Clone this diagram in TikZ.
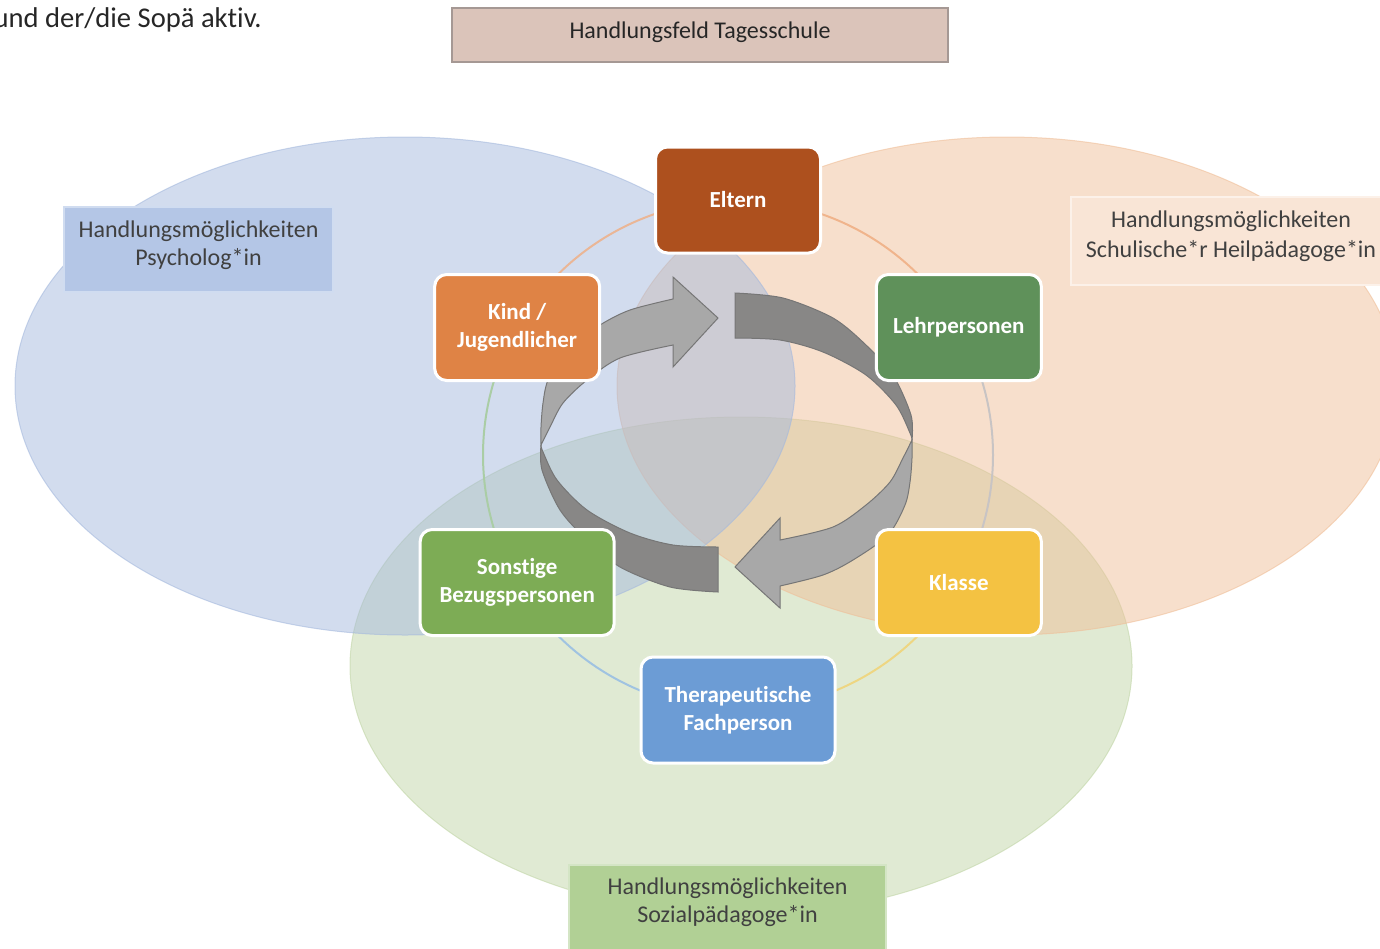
\documentclass[tikz,border=0pt]{standalone}
\usepackage{fontspec}
\setmainfont{Carlito}[Ligatures=NoCommon]
% Farben
\definecolor{ellBlau}{RGB}{165,185,221}
\definecolor{ellOrange}{RGB}{239,191,153}
\definecolor{ellGruen}{RGB}{193,213,167}
\definecolor{colEltern}{RGB}{173,80,30}
\definecolor{colLehr}{RGB}{95,145,90}
\definecolor{colKlasse}{RGB}{244,194,66}
\definecolor{colThera}{RGB}{108,156,213}
\definecolor{colSonst}{RGB}{125,172,85}
\definecolor{colKind}{RGB}{223,131,69}
\definecolor{bogenKind}{RGB}{234,182,150}
\definecolor{bogenEltern}{RGB}{240,180,140}
\definecolor{bogenLehr}{RGB}{200,196,196}
\definecolor{bogenKlasse}{RGB}{238,214,130}
\definecolor{bogenThera}{RGB}{160,195,225}
\definecolor{bogenSonst}{RGB}{170,205,165}
\definecolor{pfeilHell}{RGB}{168,168,168}
\definecolor{pfeilDunkel}{RGB}{136,135,134}
\definecolor{pfeilRand}{RGB}{118,118,118}
\definecolor{textGrau}{RGB}{64,64,64}
\definecolor{feldFill}{RGB}{219,196,186}
\definecolor{feldRand}{RGB}{165,152,148}
\definecolor{psyFill}{RGB}{180,198,230}
\definecolor{psyRand}{RGB}{208,220,240}
\definecolor{shpFill}{RGB}{249,229,214}
\definecolor{shpRand}{RGB}{252,241,233}
\definecolor{soziFill}{RGB}{177,208,149}
\definecolor{soziRand}{RGB}{212,229,197}
\begin{document}
\begin{tikzpicture}[x=0.5pt,y=-0.5pt,
    knoten/.style={rounded corners=6pt, draw=white, line width=1.5pt, text=white,
        font=\bfseries\fontsize{11.5}{14}\selectfont, align=center,
        minimum width=82.5pt, minimum height=53pt, inner sep=2pt},
    feldbox/.style={line width=1pt, inner sep=0pt},
    feldtext/.style={font=\fontsize{12}{14}\selectfont, text=textGrau, align=center, inner sep=0pt},
    ellipse/.style={fill=#1, fill opacity=0.5, draw=#1, draw opacity=0.6, line width=0.5pt}]

    \useasboundingbox (0,0) rectangle (1380,948);
    \clip (0,0) rectangle (1380,948);

    % Ellipsen
    \path[ellipse=ellGruen] (741,666) ellipse [x radius=391, y radius=249];
    \path[ellipse=ellOrange] (1007,386) ellipse [x radius=390, y radius=249];
    \path[ellipse=ellBlau] (405,386) ellipse [x radius=390, y radius=249];

    % Ring
    \begin{scope}[shift={(738,455)}]
        \foreach \a/\f in {210/bogenKind, 270/bogenEltern, -30/bogenLehr,
                           30/bogenKlasse, 90/bogenThera, 150/bogenSonst}
            \draw[\f, line width=1pt] (\a:255) arc [start angle=\a, delta angle=60, radius=255];
    \end{scope}

    % Pfeile
    \foreach \w in {0,180} {
        \begin{scope}[shift={(726.5,442.5)}, rotate=\w]
            \filldraw[fill=pfeilHell, draw=pfeilRand, line width=0.5pt]
                plot [smooth] coordinates {(-185.5,2.5) (-185.5,-15.5) (-183.5,-39.5) (-178.5,-62.5)
                    (-161.5,-92.5) (-126.5,-117.5) (-96.5,-132.5) (-53.5,-143.5)}
                -- (-53.5,-165.5) -- (-8.5,-124.5) -- (-53.5,-75.5)
                -- plot [smooth] coordinates {(-53.5,-97.5) (-106.5,-84.5) (-139.5,-62.5)
                    (-163.5,-39.5) (-176.5,-15.5) (-185.5,2.5)} -- cycle;
            \filldraw[fill=pfeilDunkel, draw=pfeilRand, line width=0.5pt]
                plot [smooth] coordinates {(-185.5,2.5) (-184.5,27.5) (-166.5,67.5) (-139.5,97.5)
                    (-106.5,124.5) (-56.5,144.5) (-8.5,149.5)}
                -- (-8.5,104.5)
                -- plot [smooth] coordinates {(-8.5,104.5) (-53.5,102.5) (-96.5,90.5) (-139.5,67.5)
                    (-169.5,37.5) (-183.5,9.5) (-185.5,2.5)} -- cycle;
        \end{scope}
    }

    % Knoten
    \begin{scope}[shift={(738,455)}]
        \node[knoten, fill=colEltern] (eltern) at (-90:255) {Eltern};
        \node[knoten, fill=colLehr] (lehr) at (-30:255) {Lehrpersonen};
        \node[knoten, fill=colKlasse] (klasse) at (30:255) {Klasse};
        \node[knoten, fill=colThera, minimum width=97pt] (thera) at (90:255) {Therapeutische\\Fachperson};
        \node[knoten, fill=colSonst, minimum width=97pt] (sonst) at (150:255) {Sonstige\\Bezugspersonen};
        \node[knoten, fill=colKind] (kind) at (210:255) {Kind /\\Jugendlicher};
    \end{scope}

    % Beschriftungen
    \node[anchor=base east, inner sep=0pt, font=\fontsize{14.3}{17}\selectfont, text=black!85] (intro) at (262,27) {und der/die Sopä aktiv.};

    \node[feldbox, fill=feldFill, draw=feldRand, minimum width=248pt, minimum height=27pt] (feld) at (700,35) {};
    \node[feldtext, text=black!85] (feldtext) at (700,32) {Handlungsfeld Tagesschule};

    \node[feldbox, fill=psyFill, draw=psyRand, minimum width=134.5pt, minimum height=42.5pt] (psy) at (198.5,249.5) {};
    \node[feldtext] (psytext) at (198.5,245.5) {Handlungsmöglichkeiten\\Psycholog*in};

    \node[feldbox, fill=shpFill, draw=shpRand, minimum width=160pt, minimum height=44pt] (shp) at (1231,241) {};
    \node[feldtext, font=\fontsize{12}{15}\selectfont] (shptext) at (1231,236) {Handlungsmöglichkeiten\\Schulische*r Heilpädagoge*in};

    \node[feldbox, fill=soziFill, draw=soziRand, minimum width=158.5pt, minimum height=44pt] (sozi) at (727.5,909) {};
    \node[feldtext] (sozitext) at (727.5,902) {Handlungsmöglichkeiten\\Sozialpädagoge*in};
\end{tikzpicture}
\end{document}
